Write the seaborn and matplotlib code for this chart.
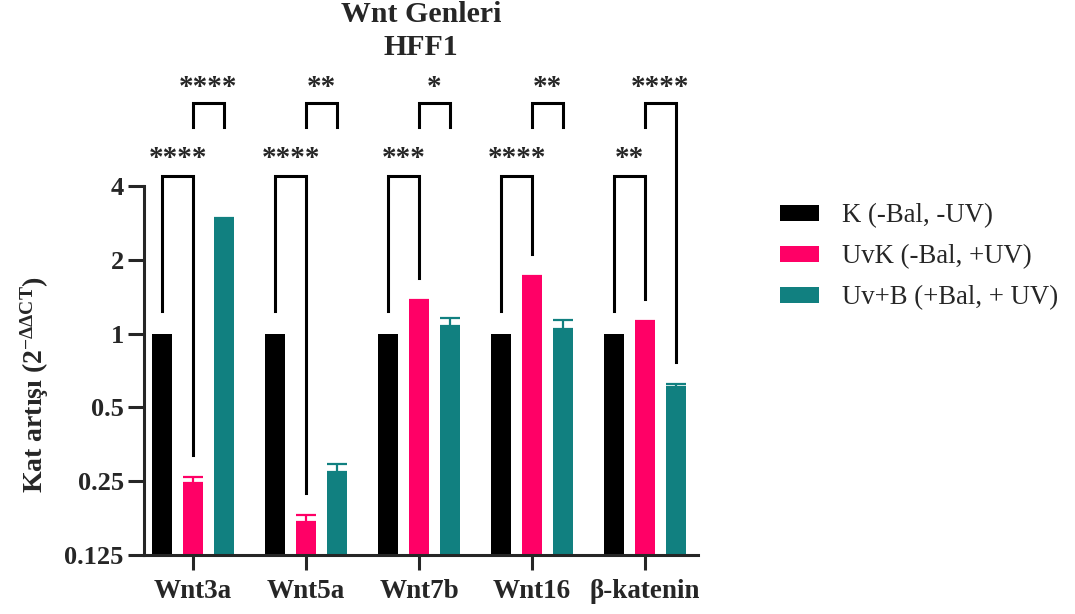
import numpy as np
import pandas as pd
import matplotlib
matplotlib.use("Agg")
import matplotlib.pyplot as plt
from matplotlib.patches import Patch
import seaborn as sns

# ---- data -------------------------------------------------------------
genes = ["Wnt3a", "Wnt5a", "Wnt7b", "Wnt16", "β-katenin"]
groups = ["K (-Bal, -UV)", "UvK (-Bal, +UV)", "Uv+B (+Bal, + UV)"]

k_mean = [1.0, 1.0, 1.0, 1.0, 1.0]
uvk_mean = [0.245, 0.171, 1.353, 1.70, 1.116]
uvb_mean = [2.93, 0.272, 1.075, 1.048, 0.607]

k_sem = [0.0, 0.0, 0.0, 0.0, 0.0]
uvk_sem = [0.015, 0.011, 0.017, 0.020, 0.014]
uvb_sem = [0.030, 0.022, 0.083, 0.090, 0.015]

# significance: K vs UvK, UvK vs Uv+B
sig_k_uvk = ["****", "****", "***", "****", "**"]
sig_uvk_uvb = ["****", "**", "*", "**", "****"]

y_ticks = [0.125, 0.25, 0.5, 1, 2, 4]
y_ticklabels = ["0.125", "0.25", "0.5", "1", "2", "4"]

palette = ["#000000", "#FF0066", "#118080"]

# ---- style ------------------------------------------------------------
sns.set_style("ticks")
plt.rcParams["font.family"] = ["Liberation Serif", "DejaVu Serif"]
plt.rcParams["mathtext.fontset"] = "custom"
plt.rcParams["mathtext.rm"] = "Liberation Serif:bold"
plt.rcParams["mathtext.it"] = "Liberation Serif:bold"
plt.rcParams["mathtext.bf"] = "Liberation Serif:bold"

means = [k_mean, uvk_mean, uvb_mean]
sems = [k_sem, uvk_sem, uvb_sem]
df = pd.DataFrame({
    "gen": np.repeat([genes], 3, axis=0).ravel(),
    "grup": np.repeat(groups, len(genes)),
    "kat": np.concatenate(means),
})

fig = plt.figure(figsize=(10.75, 6.14), dpi=100)
ax = fig.add_axes([144 / 1075, 59 / 614, (698 - 144) / 1075, (555 - 186) / 614])

sns.barplot(data=df, x="gen", y="kat", hue="grup", order=genes,
            hue_order=groups, palette=palette, saturation=1,
            width=0.813, gap=0.35, errorbar=None, legend=False,
            linewidth=0, ax=ax)

ax.set_yscale("log", base=2)
ax.set_ylim(0.125, 4)
ax.set_xlim(-0.434, 4.469)
ax.set_yticks(y_ticks)
ax.set_yticklabels(y_ticklabels, fontweight="bold")
ax.yaxis.set_minor_locator(matplotlib.ticker.NullLocator())
ax.set_xticks(range(len(genes)))
ax.set_xticklabels(genes, fontweight="bold")
ax.set_xlabel("")
ax.set_ylabel("")

for side in ("top", "right"):
    ax.spines[side].set_visible(False)
for side in ("left", "bottom"):
    ax.spines[side].set_linewidth(2.2)
ax.tick_params(axis="y", length=11.5, width=2.2, pad=3, labelsize=19)
ax.tick_params(axis="x", length=11, width=2.2, pad=6, labelsize=19.5)

# bar centres per group
centres = []
for cont in ax.containers[:3]:
    centres.append([b.get_x() + b.get_width() / 2 for b in cont])

# error bars (upper SEM only)
for h in range(3):
    for i in range(len(genes)):
        if sems[h][i] > 0:
            ax.errorbar(centres[h][i], means[h][i], yerr=[[0], [sems[h][i]]],
                        fmt="none", ecolor=palette[h], elinewidth=1.6,
                        capsize=7, capthick=1.6, zorder=3)

# ---- significance brackets --------------------------------------------
PX = 73.8  # pixels per doubling on the log2 axis


def shift(v, px):
    return v * 2 ** (px / PX)


low_top = shift(4, 10)
up_top = shift(4, 83)
bk = dict(color="black", lw=2.2, clip_on=False, solid_joinstyle="miter",
          solid_capstyle="projecting", zorder=4)
star_kw = dict(ha="center", va="baseline", fontsize=21, fontweight="bold",
               clip_on=False)

for i in range(len(genes)):
    xk, xu, xb = centres[0][i], centres[1][i], centres[2][i]
    top_k = k_mean[i] + k_sem[i]
    top_u = uvk_mean[i] + uvk_sem[i]
    top_b = uvb_mean[i] + uvb_sem[i]
    # K vs UvK
    ax.plot([xk, xk, xu, xu],
            [shift(top_k, 23), low_top, low_top, shift(top_u, 22)], **bk)
    ax.text((xk + xu) / 2, shift(4, 20), sig_k_uvk[i], **star_kw)
    # UvK vs Uv+B
    short = shift(up_top, -24)
    right_end = shift(top_b, 22) if i == len(genes) - 1 else short
    ax.plot([xu, xu, xb, xb], [short, up_top, up_top, right_end], **bk)
    ax.text((xu + xb) / 2, shift(4, 91), sig_uvk_uvb[i], **star_kw)

# ---- titles and labels ------------------------------------------------
fig.text(421 / 1075, 1 - 1 / 614, "Wnt Genleri\nHFF1", ha="center", va="top",
         fontsize=21.5, fontweight="bold", linespacing=1.3)
fig.text(35 / 1075, 1 - 385 / 614, r"Kat artışı (2$^{\mathrm{-ΔΔCT}}$)",
         rotation=90, ha="center", va="center", fontsize=20,
         fontweight="bold")

handles = [Patch(facecolor=c, edgecolor="none") for c in palette]
fig.legend(handles, groups, loc="center left",
           bbox_to_anchor=(780 / 1075, 1 - 257 / 614), frameon=False,
           prop={"family": "Liberation Serif", "size": 19.3},
           handlelength=1.46, handleheight=0.56, handletextpad=0.86,
           labelspacing=0.6, borderpad=0, borderaxespad=0)

fig.savefig("out.png", dpi=100)
